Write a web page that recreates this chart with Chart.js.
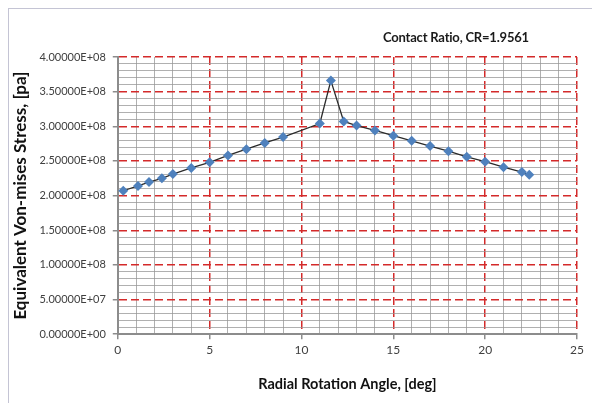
<!DOCTYPE html>
<html>
<head>
<meta charset="utf-8">
<script src="https://cdn.jsdelivr.net/npm/chart.js@4.4.1/dist/chart.umd.min.js"></script>
<style>
  body { margin: 0; background: #fff; }
  #wrap { position: relative; width: 592px; height: 403px; overflow: hidden; }
  #frame { position: absolute; left: 8px; top: 8px; width: 620px; height: 440px; border: 1px solid #c4c4d4; }
  #cr { position: absolute; left: 383px; top: 29px; font: bold 13px Lato, sans-serif; color: #1a1a1a; letter-spacing: -0.2px; }
  canvas { position: absolute; left: 0; top: 0; }
</style>
</head>
<body>
<div id="wrap">
  <div id="frame"></div>
  <canvas id="stress-chart"></canvas>
  <div id="cr">Contact Ratio, CR=1.9561</div>
</div>
<script>
// Von-mises stress vs rotation angle
const angles = [0.3, 1.1, 1.7, 2.4, 3, 4, 5, 6, 7, 8, 9, 11, 11.6, 12.3, 13, 14, 15, 16, 17, 18, 19, 20, 21, 22, 22.4];
const stresses = [2.07e8, 2.14e8, 2.195e8, 2.25e8, 2.31e8, 2.40e8, 2.48e8, 2.58e8, 2.67e8, 2.76e8, 2.845e8, 3.04e8, 3.66e8, 3.07e8, 3.01e8, 2.94e8, 2.865e8, 2.79e8, 2.715e8, 2.64e8, 2.56e8, 2.49e8, 2.41e8, 2.34e8, 2.30e8];
const xTicks = [0, 5, 10, 15, 20, 25];
const yTicks = [0, 5e7, 1e8, 1.5e8, 2e8, 2.5e8, 3e8, 3.5e8, 4e8];

const RED = '#d42a2a';
const MINOR = 'rgba(150,150,150,0.75)';
const AXIS = '#8c8c8c';

function isMajor(list, v) {
    return list.some(t => Math.abs(t - v) < 1e-6 * Math.max(1, Math.abs(t)));
}

function sci(v) {
    v = Math.round(v);
    if (v === 0) return '0.00000E+00';
    const e = Math.floor(Math.log10(v) + 1e-9);
    const m = v / Math.pow(10, e);
    return m.toFixed(5) + 'E+' + String(e).padStart(2, '0');
}

function gridOpts(list) {
    return {
        color: c => (c.tick && isMajor(list, c.tick.value)) ? RED : MINOR,
        lineWidth: c => (c.tick && isMajor(list, c.tick.value)) ? 1.5 : 1,
        tickColor: c => (c.tick && isMajor(list, c.tick.value)) ? AXIS : 'rgba(0,0,0,0)',
        tickWidth: 1.5,
        tickLength: 5,
        drawTicks: true
    };
}

function borderOpts(list) {
    return {
        display: true,
        color: AXIS,
        width: 2,
        dash: c => (c.tick && isMajor(list, c.tick.value)) ? [8, 4] : []
    };
}

const points = angles.map((a, i) => ({ x: a, y: stresses[i] }));

new Chart(document.getElementById('stress-chart'), {
    type: 'scatter',
    data: {
        datasets: [{
            data: points,
            showLine: true,
            borderColor: '#2b2b2b',
            borderWidth: 1.3,
            pointStyle: 'rectRot',
            pointRadius: 5,
            pointHoverRadius: 5,
            pointBackgroundColor: '#4f81bd',
            pointBorderColor: '#4f81bd',
            pointBorderWidth: 0,
            tension: 0,
            clip: false
        }]
    },
    options: {
        responsive: true,
        maintainAspectRatio: false,
        animation: false,
        layout: { padding: { left: 10, top: 57, right: 15, bottom: 10 } },
        plugins: {
            legend: { display: false },
            tooltip: { enabled: false }
        },
        scales: {
            x: {
                type: 'linear',
                min: 0,
                max: 25,
                ticks: {
                    stepSize: 1,
                    autoSkip: false,
                    maxRotation: 0,
                    padding: 4,
                    color: '#404040',
                    font: { family: 'Lato', size: 12 },
                    callback: v => isMajor(xTicks, v) ? String(v) : ''
                },
                grid: gridOpts(xTicks),
                border: borderOpts(xTicks),
                title: {
                    display: true,
                    text: 'Radial Rotation Angle, [deg]',
                    color: '#111',
                    font: { family: 'Lato', size: 14.5, weight: 'bold' },
                    padding: { top: 14, bottom: 0 }
                }
            },
            y: {
                type: 'linear',
                min: 0,
                max: 4e8,
                ticks: {
                    stepSize: 1e7,
                    autoSkip: false,
                    padding: 7,
                    color: '#404040',
                    font: { family: 'Lato', size: 11 },
                    callback: v => isMajor(yTicks, v) ? sci(v) : ''
                },
                grid: gridOpts(yTicks),
                border: borderOpts(yTicks),
                title: {
                    display: true,
                    text: 'Equivalent Von-mises Stress, [pa]',
                    color: '#111',
                    font: { family: 'Lato', size: 17, weight: 'bold' },
                    padding: { top: 0, bottom: 2 }
                }
            }
        }
    }
});
</script>
</body>
</html>
